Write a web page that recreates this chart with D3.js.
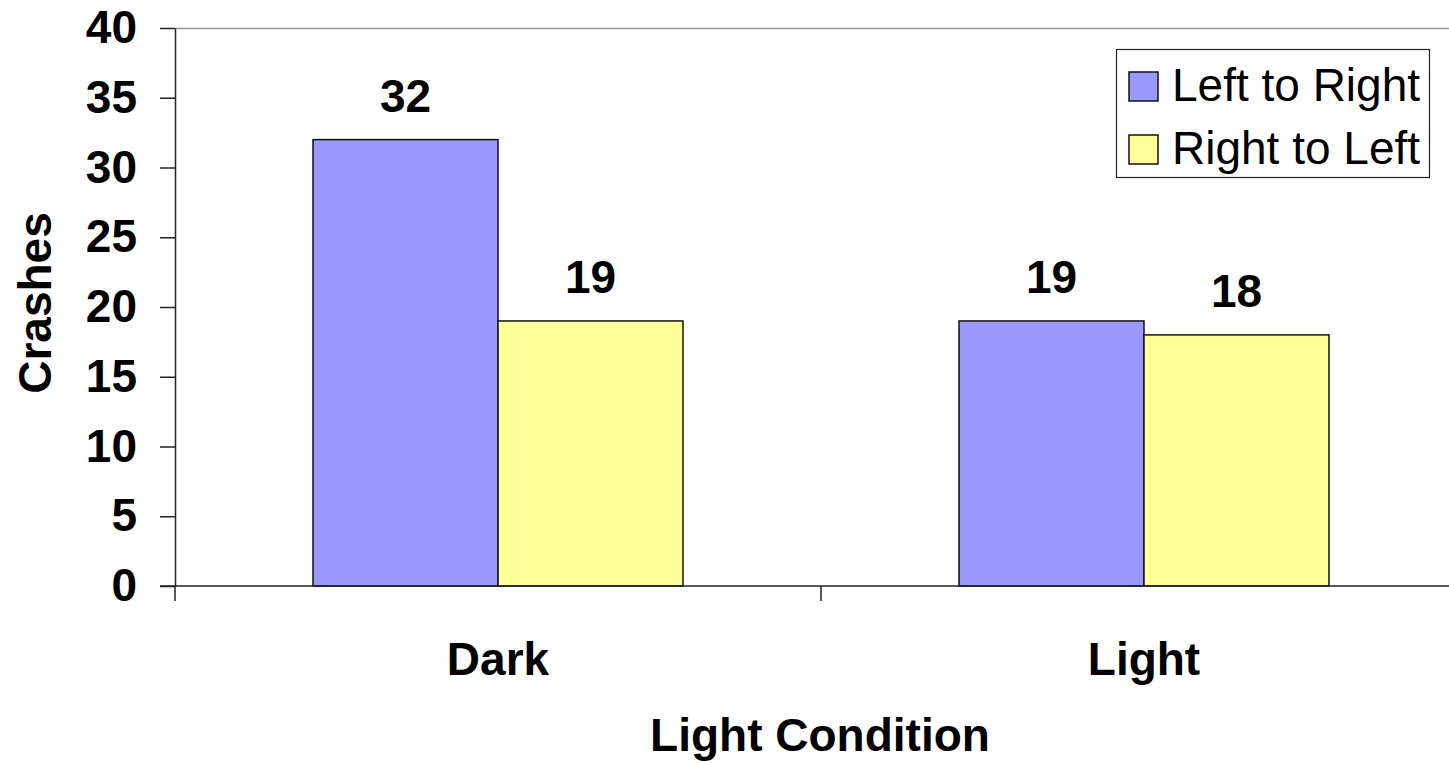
<!DOCTYPE html>
<html>
<head>
<meta charset="utf-8">
<script src="https://cdn.jsdelivr.net/npm/d3@7"></script>
<style>
  html, body { margin: 0; padding: 0; background: #fff; }
  svg { display: block; }
  text { font-family: "Liberation Sans", Arial, sans-serif; fill: #000; }
</style>
</head>
<body>
<svg id="chart" width="1449" height="763"></svg>
<script>
const categories = ["Dark", "Light"];
const seriesNames = ["Left to Right", "Right to Left"];
const leftToRight = [32, 19];
const rightToLeft = [19, 18];
const yTicks = [0, 5, 10, 15, 20, 25, 30, 35, 40];
const colors = ["#9999FF", "#FFFF99"];

const seriesValues = [leftToRight, rightToLeft];
const svg = d3.select("#chart");
const W = 1449, H = 763;
const plot = { left: 175, top: 28, right: 1467, bottom: 586 };

const y = d3.scaleLinear().domain([0, 40]).range([plot.bottom, plot.top]);
const x0 = d3.scaleBand().domain(categories).range([plot.left, plot.right]).paddingInner(0).paddingOuter(0);
const x1 = d3.scaleBand().domain(seriesNames).range([0, x0.bandwidth()]).paddingInner(0).paddingOuter(0.746);

// top border line (gray)
svg.append("line")
  .attr("x1", plot.left).attr("x2", plot.right)
  .attr("y1", y(40) + 0.5).attr("y2", y(40) + 0.5)
  .attr("stroke", "#999").attr("stroke-width", 1.5);

// Bars
const groups = svg.append("g").selectAll("g")
  .data(categories)
  .join("g")
  .attr("transform", d => `translate(${x0(d)},0)`);

groups.selectAll("rect")
  .data((c, i) => seriesNames.map((s, j) => ({ s, j, v: seriesValues[j][i] })))
  .join("rect")
  .attr("x", d => x1(d.s))
  .attr("y", d => y(d.v))
  .attr("width", x1.bandwidth())
  .attr("height", d => y(0) - y(d.v))
  .attr("fill", d => colors[d.j])
  .attr("stroke", "#111")
  .attr("stroke-width", 1.5);

groups.selectAll("text.val")
  .data((c, i) => seriesNames.map((s, j) => ({ s, j, v: seriesValues[j][i] })))
  .join("text")
  .attr("class", "val")
  .attr("x", d => x1(d.s) + x1.bandwidth() / 2)
  .attr("y", d => y(d.v) - 28)
  .attr("text-anchor", "middle")
  .attr("font-size", 46)
  .attr("font-weight", "bold")
  .text(d => d.v);

// Y axis
const yAxis = d3.axisLeft(y).tickValues(yTicks).tickSize(15).tickPadding(23).tickSizeOuter(0);
const gy = svg.append("g").attr("transform", `translate(${plot.left},0)`).call(yAxis);
gy.select(".domain").attr("stroke", "#222").attr("stroke-width", 1.5);
gy.selectAll(".tick line").attr("stroke", "#222").attr("stroke-width", 1.5);
gy.selectAll(".tick text")
  .attr("font-size", 46).attr("font-weight", "bold")
  .attr("font-family", "Liberation Sans, Arial, sans-serif").attr("fill", "#000");

// X axis
svg.append("line")
  .attr("x1", plot.left - 15).attr("x2", plot.right)
  .attr("y1", y(0)).attr("y2", y(0))
  .attr("stroke", "#222").attr("stroke-width", 1.5);
const boundaries = [plot.left].concat(categories.map(c => x0(c) + x0.bandwidth()));
svg.append("g").selectAll("line")
  .data(boundaries)
  .join("line")
  .attr("x1", d => d).attr("x2", d => d)
  .attr("y1", y(0)).attr("y2", y(0) + 15)
  .attr("stroke", "#222").attr("stroke-width", 1.5);

svg.append("g").selectAll("text")
  .data(categories)
  .join("text")
  .attr("x", d => x0(d) + x0.bandwidth() / 2)
  .attr("y", 675)
  .attr("text-anchor", "middle")
  .attr("font-size", 46).attr("font-weight", "bold")
  .text(d => d);

// Axis titles
svg.append("text")
  .attr("x", 820).attr("y", 751)
  .attr("text-anchor", "middle")
  .attr("font-size", 46).attr("font-weight", "bold")
  .text("Light Condition");

svg.append("text")
  .attr("transform", `translate(51,${(plot.top + plot.bottom) / 2 - 4}) rotate(-90)`)
  .attr("text-anchor", "middle")
  .attr("font-size", 46).attr("font-weight", "bold")
  .text("Crashes");

// Legend
const lg = svg.append("g");
lg.append("rect")
  .attr("x", 1116.5).attr("y", 49.5).attr("width", 313).attr("height", 128)
  .attr("fill", "#fff").attr("stroke", "#222").attr("stroke-width", 1.2);
const rows = lg.selectAll("g.item").data(seriesNames).join("g").attr("class", "item")
  .attr("transform", (d, i) => `translate(0,${i * 63})`);
rows.append("rect")
  .attr("x", 1129).attr("y", 72).attr("width", 29).attr("height", 29)
  .attr("fill", (d, i) => colors[i]).attr("stroke", "#111").attr("stroke-width", 1.5);
rows.append("text")
  .attr("x", 1172).attr("y", 101)
  .attr("font-size", 46)
  .text(d => d);
</script>
</body>
</html>
